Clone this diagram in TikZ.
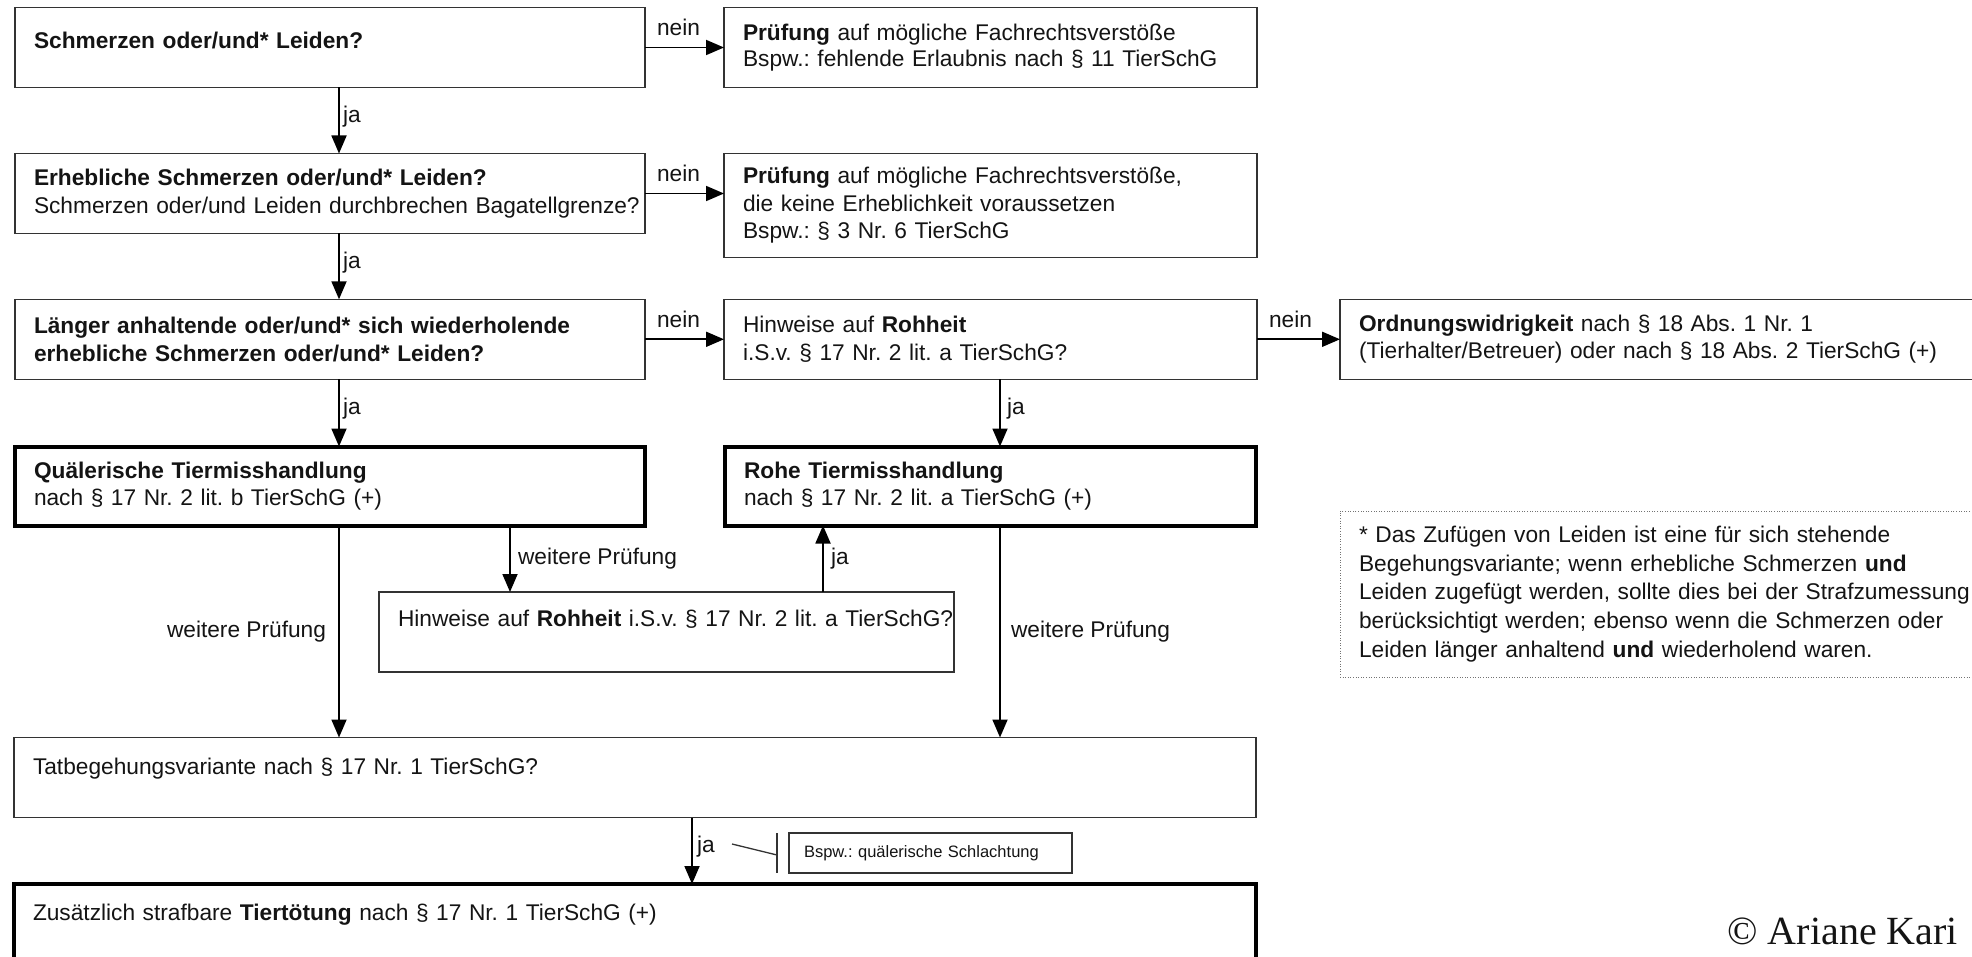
\documentclass[tikz,border=0pt]{standalone}
\usepackage{fontspec}
\setmainfont{Liberation Sans}
\newfontfamily\copyfont{Liberation Serif}
\usetikzlibrary{arrows.meta,calc}
\begin{document}
\begin{tikzpicture}[x=1pt,y=-1pt,
  every node/.style={font=\fontsize{22.7pt}{27.6pt}\selectfont\frenchspacing, text=black!92},
  box/.style={draw=black!80, line width=1.3pt, rectangle, anchor=north west, align=left,
    inner xsep=19pt, inner ysep=0pt, outer sep=0pt},
  thickbox/.style={box, draw=black, line width=4pt},
  notebox/.style={box, draw=black!55, line width=1pt, dash pattern=on 1pt off 1.6pt},
  arr/.style={draw=black, line width=1.8pt, -{Triangle[length=18pt,width=15pt]}},
  plainline/.style={draw=black!80, line width=1.3pt},
  lbl/.style={inner sep=0pt, outer sep=0pt},
]
\useasboundingbox (0,0) rectangle (1972,957);

% helper x positions for vertical connectors
\coordinate (xa) at (339,0);
\coordinate (xb) at (1000,0);
\coordinate (xc) at (823,0);
\coordinate (xd) at (692,0);
\coordinate (xe) at (510,0);

% boxes
\node[box, text width=592pt, minimum height=80pt] (b1) at (15,7.5)
  {\textbf{Schmerzen oder/und* Leiden?}\\[-14pt]~};
\node[box, text width=495pt, minimum height=80pt, font=\fontsize{22.7pt}{26pt}\selectfont\frenchspacing] (b2) at (724,7.5)
  {\textbf{Prüfung} auf mögliche Fachrechtsverstöße\\Bspw.: fehlende Erlaubnis nach § 11 TierSchG};
\node[box, text width=592pt, minimum height=80pt] (b3) at (15,153.5)
  {\textbf{Erhebliche Schmerzen oder/und* Leiden?}\\\mbox{Schmerzen oder/und Leiden durchbrechen Bagatellgrenze?}};
\node[box, text width=495pt, minimum height=104pt] (b4) at (724,153.5)
  {\textbf{Prüfung} auf mögliche Fachrechtsverstöße,\\die keine Erheblichkeit voraussetzen\\Bspw.: § 3 Nr. 6 TierSchG};
\node[box, text width=592pt, minimum height=80pt] (b5) at (15,299.3)
  {\textbf{Länger anhaltende oder/und* sich wiederholende}\\\textbf{erhebliche Schmerzen oder/und* Leiden?}};
\node[box, text width=495pt, minimum height=80pt] (b6) at (724,299.3)
  {Hinweise auf \textbf{Rohheit}\\i.S.v. § 17 Nr. 2 lit. a TierSchG?};
\node[box, text width=662pt, minimum height=80pt] (b7) at (1340,299.3)
  {\textbf{Ordnungswidrigkeit} nach § 18 Abs. 1 Nr. 1\\(Tierhalter/Betreuer) oder nach § 18 Abs. 2 TierSchG (+)};
\node[thickbox, text width=592pt, minimum height=79pt] (b8) at (15,446.5)
  {\textbf{Quälerische Tiermisshandlung}\\nach § 17 Nr. 2 lit. b TierSchG (+)};
\node[thickbox, text width=493pt, minimum height=79pt] (b9) at (725,446.5)
  {\textbf{Rohe Tiermisshandlung}\\nach § 17 Nr. 2 lit. a TierSchG (+)};
\node[box, text width=537pt, minimum height=80pt] (b10) at (379,592)
  {\mbox{Hinweise auf \textbf{Rohheit} i.S.v. § 17 Nr. 2 lit. a TierSchG?}\\~};
\node[box, text width=1204pt, minimum height=80pt] (b11) at (14,737.5)
  {Tatbegehungsvariante nach § 17 Nr. 1 TierSchG?\\[-6pt]~};
\node[thickbox, text width=1204pt, minimum height=80pt] (b12) at (14,884)
  {Zusätzlich strafbare \textbf{Tiertötung} nach § 17 Nr. 1 TierSchG (+)\\[-4pt]~};
\node[box, text width=253pt, minimum height=40pt, inner xsep=15pt,
  font=\fontsize{16.5pt}{20pt}\selectfont\frenchspacing] (bsp) at (789,833)
  {Bspw.: quälerische Schlachtung};
\node[notebox, text width=662pt, minimum height=166pt, font=\fontsize{22.7pt}{28.7pt}\selectfont\frenchspacing] (note) at (1340,511)
  {* Das Zufügen von Leiden ist eine für sich stehende\\
   Begehungsvariante; wenn erhebliche Schmerzen \textbf{und}\\
   Leiden zugefügt werden, sollte dies bei der Strafzumessung\\
   berücksichtigt werden; ebenso wenn die Schmerzen oder\\
   Leiden länger anhaltend \textbf{und} wiederholend waren.};

% horizontal "nein" arrows
\draw[arr] (b1.east) -- (b1.east -| b2.west)
  node[lbl, pos=0, anchor=base west, xshift=12pt, yshift=12pt] (n1) {nein};
\draw[arr] (b3.east) -- (b3.east -| b4.west)
  node[lbl, pos=0, anchor=base west, xshift=12pt, yshift=12pt] (n2) {nein};
\draw[arr] (b5.east) -- (b5.east -| b6.west)
  node[lbl, pos=0, anchor=base west, xshift=12pt, yshift=12pt] (n3) {nein};
\draw[arr] (b6.east) -- (b6.east -| b7.west)
  node[lbl, pos=0, anchor=base west, xshift=12pt, yshift=12pt] (n4) {nein};

% vertical "ja" arrows
\draw[arr] (b1.south -| xa) -- node[lbl, right=4pt, yshift=4pt] (j1) {ja} (b3.north -| xa);
\draw[arr] (b3.south -| xa) -- node[lbl, right=4pt, yshift=4pt] (j2) {ja} (b5.north -| xa);
\draw[arr] (b5.south -| xa) -- node[lbl, right=4pt, yshift=4pt] (j3) {ja} (b8.north -| xa);
\draw[arr] (b6.south -| xb) -- node[lbl, right=7pt, yshift=4pt] (j4) {ja} (b9.north -| xb);
\draw[arr] (b10.north -| xc) -- node[lbl, right=8pt] (j5) {ja} (b9.south -| xc);
\draw[arr] (b11.south -| xd) -- node[lbl, right=5pt, yshift=4pt] (j6) {ja} (b12.north -| xd);

% "weitere Prüfung" arrows
\draw[arr] (b8.south -| xe) -- node[lbl, right=8pt] (w1) {weitere Prüfung} (b10.north -| xe);
\draw[arr] (b8.south -| xa) -- node[lbl, left=13pt] (w2) {weitere Prüfung} (b11.north -| xa);
\draw[arr] (b9.south -| xb) -- node[lbl, right=11pt] (w3) {weitere Prüfung} (b11.north -| xb);

% callout to example box
\coordinate (cs) at (732,844);
\coordinate (cb) at (777,855);
\draw[plainline] (cs) -- (cb);
\draw[plainline] (bsp.north west -| cb) -- (bsp.south west -| cb);

% copyright
\node[inner sep=0pt, anchor=base east, font=\copyfont\fontsize{40pt}{40pt}\selectfont] (cr) at (1958,944) {© Ariane Kari};
\end{tikzpicture}
\end{document}
